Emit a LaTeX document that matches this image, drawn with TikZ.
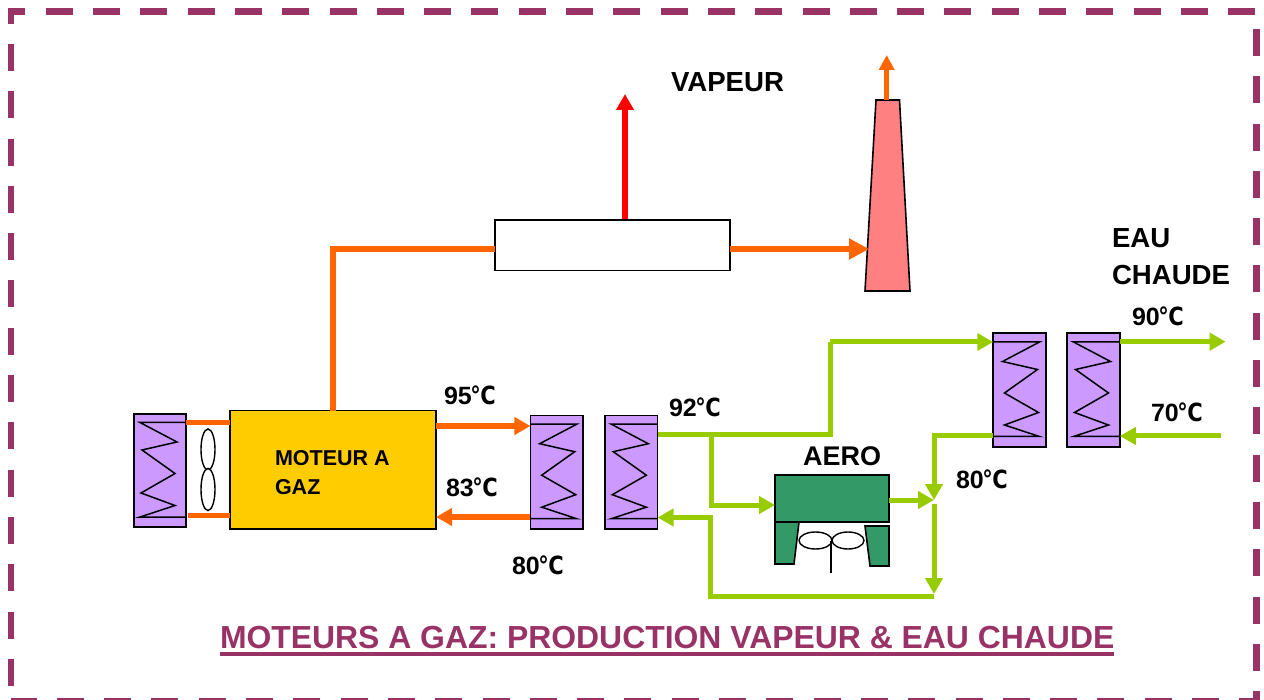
\documentclass[tikz,border=0pt]{standalone}
\usepackage{fontspec}
\usetikzlibrary{arrows.meta,shapes.geometric}
\setmainfont{Liberation Sans}[BoldFont={Liberation Sans Bold}]
\newfontfamily\degfont{DejaVu Sans Bold}[FakeStretch=0.84]
\definecolor{frameC}{HTML}{993366}
\definecolor{orangeC}{HTML}{FF6600}
\definecolor{greenC}{HTML}{99CC00}
\definecolor{purpleC}{HTML}{CC99FF}
\definecolor{yellowC}{HTML}{FFCC00}
\definecolor{tealC}{HTML}{339966}
\definecolor{pinkC}{HTML}{FF8080}
\newcommand{\dg}{{\degfont\kern-1.5pt ℃}}
\tikzset{
  x=1pt,y=-1pt,
  frameline/.style={draw=frameC,line width=6.5pt},
  hxbox/.style={draw=black,line width=1.6pt,fill=purpleC,minimum width=52.5pt,minimum height=113.5pt,inner sep=0pt,outer sep=0pt},
  coilline/.style={draw=black,line width=1.5pt,line join=miter},
  plainline/.style={draw=black,line width=1.6pt},
  fanblade/.style={draw=black,line width=1.4pt,fill=white,ellipse,inner sep=0pt},
  hot/.style={draw=orangeC,line width=5.5pt},
  hotarrow/.style={hot,-{Triangle[length=16pt,width=17pt]}},
  cold/.style={draw=greenC,line width=5pt},
  coldarrow/.style={cold,-{Triangle[length=16pt,width=17pt]}},
  lab/.style={anchor=base west,inner sep=0pt,outer sep=0pt,font=\bfseries\fontsize{25}{29}\selectfont,text=black},
  biglab/.style={lab,font=\bfseries\fontsize{27.6}{37}\selectfont,align=left},
}
\newcommand{\hx}[4]{%
  \node[hxbox] (#1) at (#2,#3) {};
  \draw[coilline,shift={(#2,#3)},xscale=#4]
    (26,-48) -- (-20,-48) -- (17,-28.5) -- (-18,-20.5) -- (15,3) -- (-19,22.5) -- (15,35) -- (-20,46.5) -- (26,46.5);
}
\begin{document}
\begin{tikzpicture}
\useasboundingbox (0,0) rectangle (1264,700);
% frame
\coordinate (tl) at (11,11.3);
\coordinate (tr) at (1256.6,11.3);
\coordinate (bl) at (11,701);
\coordinate (br) at (1256.6,701);
\draw[frameline,dash pattern=on 27pt off 20.3pt,dash phase=9.6pt] (8,11.3) -- (tr);
\draw[frameline,dash pattern=on 27pt off 20.3pt,dash phase=11.3pt] (11,8) -- (bl);
\draw[frameline,dash pattern=on 27pt off 20.3pt] (1256.6,29) -- (br);
\draw[frameline,dash pattern=on 27pt off 20.3pt,dash phase=6.3pt] (1260,701) -- (bl);

% nodes
\node[draw=black,line width=1.6pt,fill=yellowC,minimum width=206pt,minimum height=118pt,inner sep=0pt,outer sep=0pt] (M) at (333,469.7) {};
\node[plainline,minimum width=235pt,minimum height=50.7pt,inner sep=0pt,outer sep=0pt] (R) at (612.5,245.3) {};
\hx{A}{160}{470.5}{1}
\hx{B}{556.7}{472.2}{-1}
\hx{C}{631.3}{472.2}{1}
\hx{D}{1019.5}{390}{-1}
\hx{E}{1093.5}{390}{1}
\node[plainline,fill=tealC,minimum width=114pt,minimum height=47.3pt,inner sep=0pt,outer sep=0pt] (K) at (832,498.6) {};

% fan of the engine radiator
\node[fanblade,minimum width=14pt,minimum height=41pt] (f1) at (208,449.5) {};
\node[fanblade,minimum width=14pt,minimum height=42pt] (f2) at (208,489.5) {};

% aero legs and fan
\draw[plainline,fill=tealC] (775,522) -- (799,522) -- (794,564) -- (775,564) -- cycle;
\draw[plainline,fill=tealC] (865,526) -- (889,526) -- (889,566) -- (870,566) -- cycle;
\node[fanblade,minimum width=33pt,minimum height=17pt] (g1) at (815.5,540.5) {};
\node[fanblade,minimum width=32pt,minimum height=17pt] (g2) at (848,540.5) {};
\coordinate (gs) at (831,573);
\draw[plainline] (831,540.5) -- (gs);

% stack
\draw[plainline,fill=pinkC] (876,100) -- (899.5,100) -- (910,291) -- (865,291) -- cycle;
\coordinate (stackTop) at (886.7,100);
\coordinate (stackTip) at (886.7,55);
\coordinate (stackIn) at (869,249);
\coordinate (steamTip) at (625,94);

% orange
\draw[hot,line width=6pt] (333,410.7) -- (333,249) -- (R.west |- 0,249);
\draw[draw=orangeC,line width=6pt,-{Triangle[length=20pt,width=20pt]}] (R.east |- 0,249) -- (stackIn);
\draw[hotarrow,line width=5.3pt,-{Triangle[length=15pt,width=15pt]}] (stackTop) -- (stackTip);
\draw[draw=red,line width=6pt,-{Triangle[length=16pt,width=17pt]}] (625,219) -- (steamTip);
\draw[hot] (A.east |- 0,422.7) -- (M.west |- 0,422.7);
\draw[hot] (188,515.3) -- (M.west |- 0,515.3);
\draw[hotarrow] (M.east |- 0,426) -- (B.west |- 0,426);
\draw[hotarrow] (B.west |- 0,517) -- (M.east |- 0,517);

% green
\coordinate (mix) at (934,500);
\coordinate (mixB) at (934,504);
\coordinate (low) at (934,594);
\coordinate (out90) at (1225.7,341.7);
\coordinate (in70) at (1221,436);
\draw[cold] (C.east |- 0,434.5) -- (830,434.5) -- (830,342);
\draw[coldarrow] (830,342) -- (D.west |- 0,342);
\draw[coldarrow] (711,434.5) -- (711,505) -- (K.west |- 0,505);
\draw[coldarrow] (K.east |- 0,500) -- (mix);
\draw[coldarrow] (D.west |- 0,436) -- (934,436) -- (mix);
\draw[coldarrow] (mixB) -- (low);
\draw[coldarrow] (934,596) -- (710,596) -- (710,517.5) -- (C.east |- 0,517.5);
\draw[coldarrow] (E.east |- 0,341.7) -- (out90);
\draw[coldarrow] (in70) -- (E.east |- 0,436);

% labels
\node[lab,align=left,font=\bfseries\fontsize{21.5}{29}\selectfont] (tm) at (275,494) {MOTEUR A\\GAZ};
\node[lab] (t95) at (444,405) {95\dg};
\node[lab] (t83) at (446,496.7) {83\dg};
\node[lab] (t80a) at (512,574) {80\dg};
\node[lab] (t92) at (669,416.7) {92\dg};
\node[lab] (t90) at (1132,326) {90\dg};
\node[lab] (t70) at (1151,421.7) {70\dg};
\node[lab] (t80b) at (956,488) {80\dg};
\node[biglab,font=\bfseries\fontsize{27}{37}\selectfont] (ta) at (803,465) {AERO};
\node[biglab] (tv) at (671,92) {VAPEUR};
\node[biglab] (te) at (1112,285) {EAU\\CHAUDE};
\node[anchor=base west,inner sep=0pt,outer sep=0pt,text=frameC,font=\bfseries\fontsize{31.9}{38}\selectfont] (title) at (220,648)
  {\vtop{\hbox{MOTEURS A GAZ: PRODUCTION VAPEUR \& EAU CHAUDE}\kern 3.5pt\hrule height 4pt}};
\end{tikzpicture}
\end{document}
